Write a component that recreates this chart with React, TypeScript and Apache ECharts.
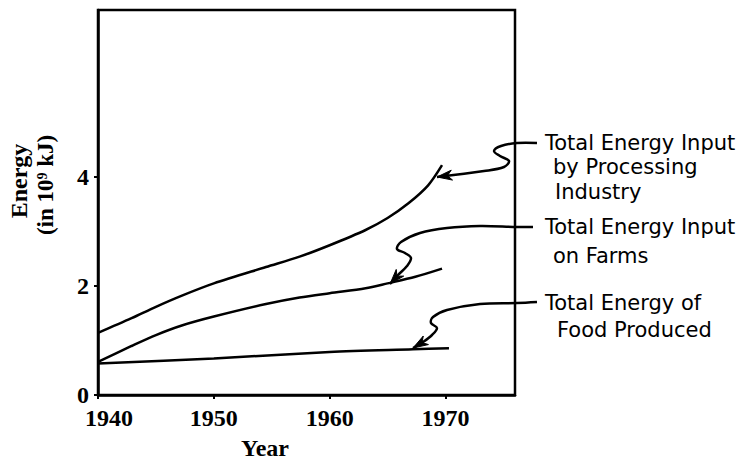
import React, { useEffect, useRef } from "react";
import * as echarts from "echarts";

// Data
const processingYears = [1940, 1942.9, 1945, 1947.3, 1950, 1954.5, 1957.4, 1960, 1963.1, 1965, 1966.8, 1968.5, 1969.7];
const processingValues = [1.14, 1.41, 1.62, 1.83, 2.05, 2.35, 2.54, 2.75, 3.03, 3.25, 3.52, 3.85, 4.22];
const farmYears = [1940, 1942.9, 1945, 1947.3, 1950, 1954.5, 1957.4, 1960, 1963.1, 1965, 1967.4, 1969.7];
const farmValues = [0.61, 0.9, 1.1, 1.28, 1.44, 1.67, 1.79, 1.87, 1.96, 2.05, 2.17, 2.32];
const foodYears = [1940, 1950, 1960, 1967.2, 1970.3];
const foodValues = [0.58, 0.67, 0.79, 0.84, 0.86];
const xTickLabels = [1940, 1950, 1960, 1970];
const yTickLabels = [0, 2, 4];
const labelLines = [
  ["Total Energy Input", "by Processing", "Industry"],
  ["Total Energy Input", "on Farms"],
  ["Total Energy of", "Food Produced"],
];

const INK = "#000";
const LABEL_FONT = "'DejaVu Sans', sans-serif";
const TICK_FONT = "'Liberation Serif', serif";

function zip(xs: number[], ys: number[]) {
  return xs.map((x, i) => [x, ys[i]]);
}

function arrowHead(pts: number[][], len: number, half: number) {
  const tip = pts[pts.length - 1];
  const prev = pts[pts.length - 2];
  const dx = tip[0] - prev[0];
  const dy = tip[1] - prev[1];
  const d = Math.hypot(dx, dy) || 1;
  const ux = dx / d, uy = dy / d;
  const bx = tip[0] - ux * len, by = tip[1] - uy * len;
  return [
    [tip[0], tip[1]],
    [bx - uy * half, by + ux * half],
    [tip[0] - ux * len * 0.7, tip[1] - uy * len * 0.7],
    [bx + uy * half, by - ux * half],
  ];
}

export default function App() {
  const ref = useRef<HTMLDivElement>(null);
  useEffect(() => {
    const chart = echarts.init(ref.current!, undefined, { renderer: "svg" });

    const arrows = [
      [[537, 143], [517, 143], [501, 146], [494, 151], [500, 156], [509, 161], [504, 167], [484, 171], [437, 177]],
      [[533, 227], [517, 227], [480, 226], [447, 228], [420, 233], [401, 242], [397, 249], [405, 253], [411, 258], [407, 266], [398, 275], [390, 284]],
      [[537, 302], [517, 303], [480, 304], [447, 310], [433, 317], [431, 323], [437, 328], [432, 335], [423, 342], [413, 348]],
    ];

    const labelPos = [
      [[545, 143], [553, 167], [555, 192]],
      [[545, 227], [553, 256]],
      [[545, 303], [557, 330]],
    ];

    const graphic: any[] = [];
    arrows.forEach((pts) => {
      graphic.push({
        type: "polyline",
        shape: { points: pts, smooth: 0.35 },
        style: { stroke: INK, lineWidth: 2.5, fill: null },
        silent: true,
      });
      graphic.push({
        type: "polygon",
        shape: { points: arrowHead(pts, 15, 5) },
        style: { fill: INK, stroke: INK, lineWidth: 1 },
        silent: true,
      });
    });
    labelLines.forEach((lines, i) => {
      lines.forEach((t, j) => {
        graphic.push({
          type: "text",
          x: labelPos[i][j][0],
          y: labelPos[i][j][1],
          style: {
            text: t,
            font: `21px ${LABEL_FONT}`,
            fill: INK,
            textAlign: "left",
            textVerticalAlign: "middle",
          },
          silent: true,
        });
      });
    });
    graphic.push({
      type: "text",
      x: 265,
      y: 448,
      style: {
        text: "Year",
        font: `bold 24px ${TICK_FONT}`,
        fill: INK,
        textAlign: "center",
        textVerticalAlign: "middle",
      },
    });
    graphic.push({
      type: "text",
      x: 19,
      y: 181,
      rotation: Math.PI / 2,
      style: {
        text: "Energy",
        font: `bold 24px ${TICK_FONT}`,
        fill: INK,
        textAlign: "center",
        textVerticalAlign: "middle",
      },
    });
    graphic.push({
      type: "text",
      x: 45,
      y: 185,
      rotation: Math.PI / 2,
      style: {
        text: "(in 10⁹ kJ)",
        font: `bold 23px ${TICK_FONT}`,
        fill: INK,
        textAlign: "center",
        textVerticalAlign: "middle",
      },
    });

    const lineSeries = (name: string, data: number[][]) => ({
      name,
      type: "line",
      data,
      smooth: 0.3,
      showSymbol: false,
      lineStyle: { color: INK, width: 2.5 },
      itemStyle: { color: INK },
    });

    chart.setOption({
      animation: false,
      backgroundColor: "#fff",
      grid: {
        left: 98,
        right: 234,
        top: 10,
        bottom: 65,
        show: true,
        borderColor: INK,
        borderWidth: 2.5,
      },
      xAxis: {
        type: "value",
        min: 1940,
        max: 1976,
        interval: 10,
        splitLine: { show: false },
        axisLine: { show: true, lineStyle: { color: INK, width: 2.5 } },
        axisTick: {
          show: true,
          inside: false,
          length: 4,
          customValues: xTickLabels,
          lineStyle: { color: INK, width: 2 },
        },
        axisLabel: {
          color: INK,
          fontFamily: TICK_FONT,
          fontSize: 24,
          fontWeight: "bold",
          margin: 11,
          customValues: xTickLabels,
          formatter: (v: number) => (v === 1940 ? `{s|${v}}` : `${v}`),
          rich: {
            s: {
              fontFamily: TICK_FONT,
              fontSize: 24,
              fontWeight: "bold",
              color: INK,
              padding: [0, 0, 0, 22],
            },
          },
        },
      },
      yAxis: {
        type: "value",
        min: 0,
        max: 7.07,
        interval: 2,
        splitLine: { show: false },
        axisLine: { show: true, lineStyle: { color: INK, width: 2.5 } },
        axisTick: {
          show: true,
          inside: false,
          length: 4,
          customValues: yTickLabels,
          lineStyle: { color: INK, width: 2 },
        },
        axisLabel: {
          color: INK,
          fontFamily: TICK_FONT,
          fontSize: 24,
          fontWeight: "bold",
          margin: 9,
          customValues: yTickLabels,
          formatter: (v: number) => `${v}`,
        },
      },
      series: [
        lineSeries("Total Energy Input by Processing Industry", zip(processingYears, processingValues)),
        lineSeries("Total Energy Input on Farms", zip(farmYears, farmValues)),
        lineSeries("Total Energy of Food Produced", zip(foodYears, foodValues)),
      ],
      graphic,
    });

    return () => chart.dispose();
  }, []);

  return (
    <div
      ref={ref}
      style={{ position: "fixed", left: 0, top: 0, width: 749, height: 460, background: "#fff" }}
    />
  );
}
